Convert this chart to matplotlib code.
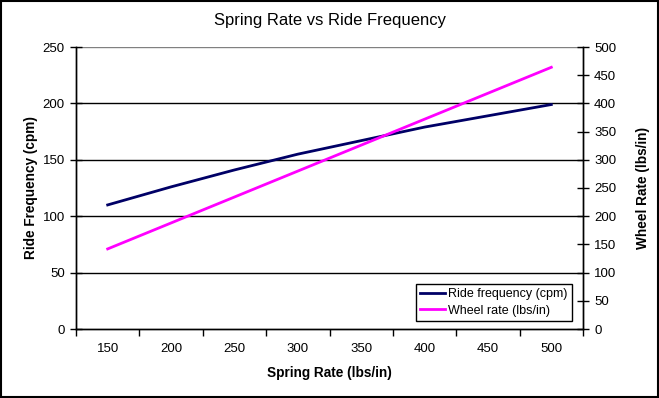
import matplotlib
matplotlib.use("Agg")
from matplotlib import pyplot as plt
from matplotlib.patches import Rectangle

# chart data
spring_rate = [150, 200, 250, 300, 350, 400, 450, 500]
ride_freq = [110, 126, 141, 155, 167, 179, 189, 199]
wheel_rate = [142, 188, 234, 280, 326, 372, 418, 464]

plt.rcParams['font.family'] = ['Liberation Sans', 'DejaVu Sans']

fig = plt.figure(figsize=(6.59, 3.98), dpi=100)
ax = fig.add_axes([76 / 659, 1 - 329 / 398, (583 - 76) / 659, (329 - 47) / 398])
ax2 = ax.twinx()

pos = list(range(len(spring_rate)))
l1, = ax.plot(pos, ride_freq, color='#000066', lw=2, label='Ride frequency (cpm)')
l2, = ax2.plot(pos, wheel_rate, color='#ff00ff', lw=2, label='Wheel rate (lbs/in)')

ax.set_xlim(-0.5, len(pos) - 0.5)
ax.set_ylim(0, 250)
ax2.set_ylim(0, 500)

# category axis: ticks on boundaries, labels in the middle
ax.set_xticks([p - 0.5 for p in pos] + [len(pos) - 0.5])
ax.set_xticklabels([])
ax.set_xticks(pos, minor=True)
ax.set_xticklabels([str(s) for s in spring_rate], minor=True)
ax.tick_params(axis='x', which='major', direction='out', length=5, width=1, color='black')
ax.tick_params(axis='x', which='minor', length=0, pad=10, labelsize=9.5)

ax.set_yticks(range(0, 251, 50))
ax2.set_yticks(range(0, 501, 50))
ax.tick_params(axis='y', direction='inout', length=8, width=1, labelsize=9.5, pad=4)
ax2.tick_params(axis='y', direction='inout', length=8, width=1, labelsize=9.5, pad=4)

# gridlines
for v in range(50, 201, 50):
    ax.axhline(v, color='black', lw=1, zorder=0)
ax.axhline(250, color='#808080', lw=1, zorder=0)

for a in (ax, ax2):
    a.spines['top'].set_visible(False)
    for s in ('left', 'right', 'bottom'):
        a.spines[s].set_linewidth(1)
        a.spines[s].set_color('black')

ax.set_xlabel('Spring Rate (lbs/in)', fontsize=9.8, fontweight='bold', labelpad=8)
ax.set_ylabel('Ride Frequency (cpm)', fontsize=9.8, fontweight='bold')
ax2.set_ylabel('Wheel Rate (lbs/in)', fontsize=9.8, fontweight='bold')
ax.yaxis.set_label_coords(-0.075, 0.5)
ax2.yaxis.set_label_coords(1.104, 0.5)

fig.text(0.5, 1 - 21 / 398, 'Spring Rate vs Ride Frequency', fontsize=12,
         ha='center', va='center')

leg = ax2.legend(handles=[l1, l2], loc='lower left', fontsize=9.0,
                 bbox_to_anchor=((416 - 76) / 507, (329 - 321) / 282),
                 fancybox=False, shadow=False, framealpha=1, borderpad=0.35,
                 handlelength=2.0, handletextpad=0.2, labelspacing=0.35,
                 borderaxespad=0)
leg.get_frame().set_edgecolor('black')
leg.get_frame().set_linewidth(1)

fig.patches.append(Rectangle((0.001, 0.002), 0.997, 0.995, transform=fig.transFigure,
                             fill=False, edgecolor='black', lw=1.5))

fig.savefig('out.png', dpi=100)
